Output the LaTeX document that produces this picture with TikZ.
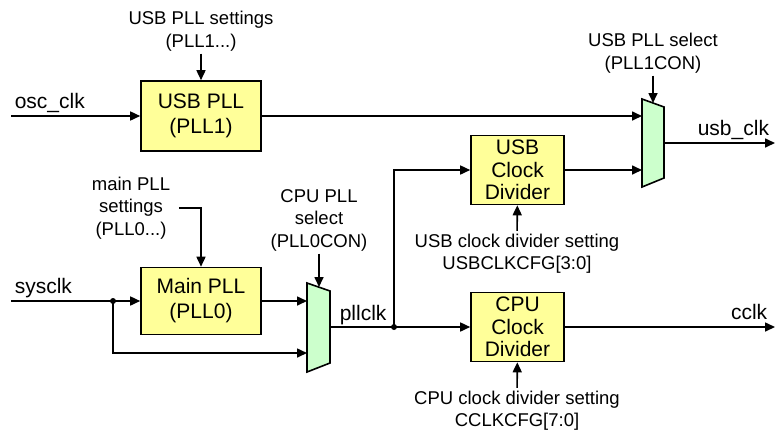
\documentclass[tikz,border=0pt]{standalone}
\usepackage{fontspec}
\setmainfont{Liberation Sans}
\usetikzlibrary{arrows.meta}
\definecolor{pllyellow}{RGB}{255,255,153}
\definecolor{muxgreen}{RGB}{204,255,204}

\begin{document}
\begin{tikzpicture}[x=1pt, y=-1pt, >={Triangle[length=10pt,width=9pt]}, line width=1.6pt,
  block/.style={draw, fill=pllyellow, minimum width=120pt, minimum height=70pt, inner sep=1pt, align=center, font=\fontsize{21}{25}\selectfont},
  divblock/.style={block, minimum width=93pt, minimum height=69pt, font=\fontsize{21}{22.5}\selectfont},
  note/.style={align=center, inner sep=2pt, font=\fontsize{18.5}{22.5}\selectfont},
  sig/.style={inner sep=0pt, font=\fontsize{21}{25}\selectfont},
  mux/.style={draw, fill=muxgreen}]
\useasboundingbox (0,0) rectangle (775,432);
\node[block] (usbpll) at (201,116) {USB PLL\\(PLL1)};
\node[block, minimum height=67pt] (mainpll) at (201,301) {Main PLL\\(PLL0)};
\node[divblock] (usbdiv) at (517.5,170) {USB\\Clock\\Divider};
\node[divblock] (cpudiv) at (517.5,327) {CPU\\Clock\\Divider};
\node[note] (usbset) at (201,31) {USB PLL settings\\(PLL1...)};
\node[note] (mainset) at (131,208) {main PLL\\settings\\(PLL0...)};
\node[note] (cpusel) at (319,220) {CPU PLL\\select\\(PLL0CON)};
\node[note] (usbsel) at (653,53) {USB PLL select\\(PLL1CON)};
\node[note] (usbdivset) at (517,253.5) {USB clock divider setting\\USBCLKCFG[3:0]};
\node[note] (cpudivset) at (517,410.5) {CPU clock divider setting\\CCLKCFG[7:0]};
\node[sig, anchor=base west] (osclbl) at (14,108) {osc\_clk};
\node[sig, anchor=base west] (syslbl) at (14,293) {sysclk};
\node[sig, anchor=base west] (plllbl) at (339,320) {pllclk};
\node[sig, anchor=base west] (usblbl) at (697,135) {usb\_clk};
\node[sig, anchor=base east] (cclklbl) at (768,319) {cclk};
\coordinate (oscin) at (11,116);
\coordinate (sysin) at (11,301);
\coordinate (sdot) at (113,301);
\coordinate (pdot) at (394,327);
\coordinate (usbout) at (775,143);
\coordinate (cclkout) at (775,327);
\coordinate (cm1) at (307,283);
\coordinate (cm2) at (330,291);
\coordinate (cm3) at (330,363);
\coordinate (cm4) at (307,372);
\coordinate (cmA) at (307,301);
\coordinate (cmB) at (307,353);
\coordinate (cmO) at (330,327);
\coordinate (cmS) at (319,287);
\coordinate (um1) at (642,99);
\coordinate (um2) at (664,107);
\coordinate (um3) at (664,178);
\coordinate (um4) at (642,187);
\coordinate (umA) at (642,116);
\coordinate (umB) at (642,170);
\coordinate (umO) at (664,143);
\coordinate (umS) at (653,103);
\draw[mux] (cm1) -- (cm2) -- (cm3) -- (cm4) -- cycle;
\draw[mux] (um1) -- (um2) -- (um3) -- (um4) -- cycle;
\draw[->] (oscin) -- (usbpll);
\draw[->] (usbpll) -- (umA);
\draw[->] (usbset) -- (usbpll);
\draw[->] (sysin) -- (mainpll);
\draw[->] ([xshift=6pt]mainset.east) -| (mainpll);
\draw[->] (sdot) |- (cmB);
\draw[->] (mainpll) -- (cmA);
\draw[->] (cpusel) -- (cmS);
\draw (cmO) -- (pdot);
\draw[->] (pdot) -- (cpudiv);
\draw[->] (pdot) |- (usbdiv);
\draw[->] (usbdiv) -- (umB);
\draw[->] (usbsel) -- (umS);
\draw[->] (umO) -- (usbout);
\draw[->] (cpudiv) -- (cclkout);
\draw[->] (usbdivset) -- (usbdiv);
\draw[->] (cpudivset) -- (cpudiv);
\fill (sdot) circle (3pt);
\fill (pdot) circle (3pt);
\end{tikzpicture}
\end{document}
